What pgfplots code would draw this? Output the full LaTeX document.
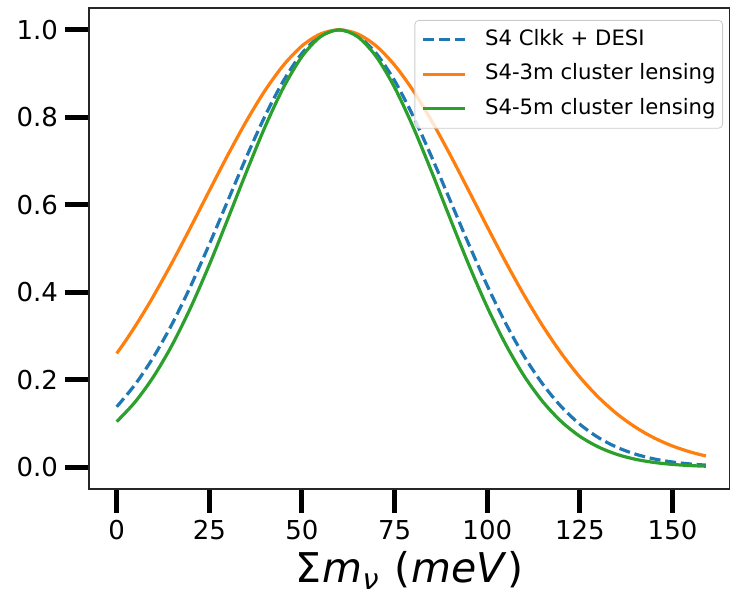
\documentclass[border=0pt]{standalone}
\usepackage{fontspec}
\setmainfont{DejaVu Sans}
\usepackage{pgfplots}
\pgfplotsset{compat=1.18}
\definecolor{tabblue}{HTML}{1F77B4}
\definecolor{taborange}{HTML}{FF7F0E}
\definecolor{tabgreen}{HTML}{2CA02C}
\begin{document}
\begin{tikzpicture}
\begin{axis}[
  scale only axis,
  width=320.5pt, height=240.5pt,
  xmin=-7.48, xmax=165.5,
  ymin=-0.05, ymax=1.05,
  axis line style={line width=0.6pt, black!85},
  tick align=outside,
  tick pos=left,
  major tick length=12pt,
  tick style={line width=2.5pt, black},
  xtick={0,25,50,75,100,125,150},
  ytick={0,0.2,0.4,0.6,0.8,1.0},
  yticklabel style={/pgf/number format/.cd, fixed, fixed zerofill, precision=1},
  /pgf/number format/assume math mode=true,
  ticklabel style={font=\fontsize{13}{15}\selectfont},
  xlabel={Σ\kern0.5pt\textit{m}\textsubscript{\textit{ν}}\kern1pt\ (\kern0.5pt\textit{meV})},
  xlabel style={font=\fontsize{20.5}{22}\selectfont, at={(axis description cs:0.5,0)}, anchor=base, yshift=-47pt},
  legend style={
    at={(1,1)}, anchor=north east, xshift=-3.5pt, yshift=-6pt,
    draw=black!20, rounded corners=2pt, fill=white, fill opacity=0.8, text opacity=1,
    font=\fontsize{10.6}{12}\selectfont,
    inner xsep=3.5pt, inner ysep=1pt, row sep=0pt,
    nodes={inner xsep=0pt, inner ysep=3.4pt, text height=8pt, text depth=2.5pt, anchor=west},
    /tikz/every odd column/.append style={column sep=9pt},
  },
  legend cell align=left,
  legend image code/.code={\draw[#1] (0pt,0pt) -- (21pt,0pt);},
]
\coordinate (SW) at (rel axis cs:0,0);
\coordinate (NE) at (rel axis cs:1,1);
\addplot[tabblue, line width=1.6pt, dash pattern=on 5.5pt off 2.4pt, smooth] coordinates {
(0,0.1380) (5,0.1894) (10,0.2528) (15,0.3283) (20,0.4148) (25,0.5098) (30,0.6096) (35,0.7091) (40,0.8025) (45,0.8836) (50,0.9465) (55,0.9863) (60,1.0000)
(65,0.9863) (70,0.9465) (75,0.8836) (80,0.8025) (85,0.7091) (90,0.6096) (95,0.5098) (100,0.4148) (105,0.3283) (110,0.2528) (115,0.1894) (120,0.1380) (125,0.0979) (130,0.0675) (135,0.0453) (140,0.0296) (145,0.0188) (150,0.0116) (155,0.0070) (159,0.0046)
};
\addlegendentry{S4 Clkk + DESI}
\addplot[taborange, line width=1.6pt, smooth] coordinates {
(0,0.2600) (2.5,0.2901) (5,0.3224) (7.5,0.3565) (10,0.3924) (15,0.4687) (20,0.5495) (25,0.6322) (30,0.7140) (35,0.7914) (40,0.8610) (45,0.9192) (50,0.9633) (55,0.9907) (60,1.0000)
(65,0.9907) (70,0.9633) (75,0.9192) (80,0.8610) (85,0.7914) (90,0.7140) (95,0.6322) (100,0.5495) (105,0.4687) (110,0.3924) (115,0.3224) (120,0.2600) (125,0.2057) (130,0.1598) (135,0.1218) (140,0.0912) (145,0.0669) (150,0.0482) (155,0.0341) (159,0.0255)
};
\addlegendentry{S4-3m cluster lensing}
\addplot[tabgreen, line width=1.6pt, smooth] coordinates {
(0,0.1041) (5,0.1494) (10,0.2078) (15,0.2801) (20,0.3658) (25,0.4630) (30,0.5680) (35,0.6751) (40,0.7777) (45,0.8681) (50,0.9391) (55,0.9844) (60,1.0000)
(65,0.9844) (70,0.9391) (75,0.8681) (80,0.7777) (85,0.6751) (90,0.5680) (95,0.4630) (100,0.3658) (105,0.2801) (110,0.2078) (115,0.1494) (120,0.1041) (125,0.0703) (130,0.0460) (135,0.0291) (140,0.0179) (145,0.0107) (150,0.0062) (155,0.0034) (159,0.0021)
};
\addlegendentry{S4-5m cluster lensing}
\end{axis}
\pgfresetboundingbox
\path ([shift={(-44.5pt,-54.5pt)}]SW) rectangle ([shift={(0pt,4pt)}]NE);
\end{tikzpicture}
\end{document}
